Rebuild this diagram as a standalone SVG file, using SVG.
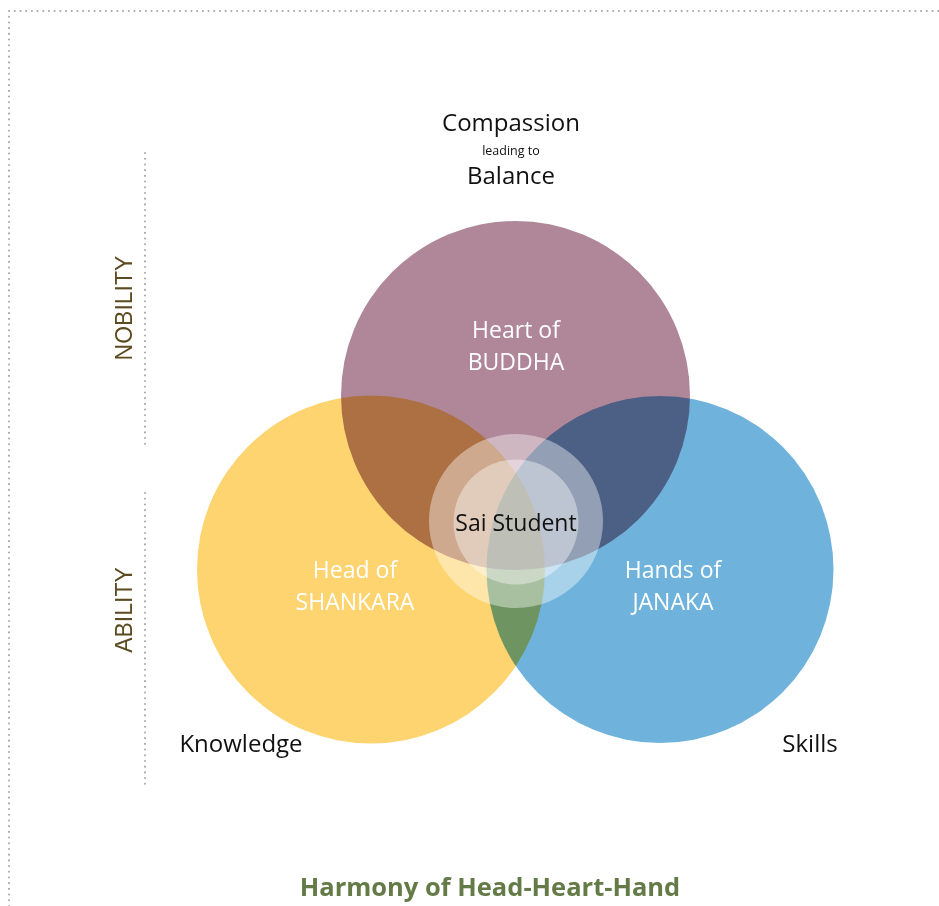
<svg xmlns="http://www.w3.org/2000/svg" width="939" height="906" viewBox="0 0 939 906">
<style>
.dot{stroke:#a8a8a8;stroke-width:2;stroke-dasharray:0.1 5.6;stroke-linecap:round;fill:none}
.t{font-family:"Open Sans","Noto Sans",sans-serif;text-anchor:middle}
.w{fill:#ffffff;font-size:23px}
.k{fill:#111111;font-size:24px}
.side{font-family:"Liberation Sans",Arial,sans-serif;font-size:23px;fill:#5c4a20;text-anchor:middle}
.c{mix-blend-mode:multiply}
</style>
<rect width="939" height="906" fill="#ffffff"/>
<g id="frame">
<path class="dot" d="M9 11 H939 M9 11 V906"/>
<path class="dot" d="M145 153 V447 M145 493 V786"/>
</g>
<g id="circles" style="isolation:isolate">
<circle id="buddha" class="c" cx="515.5" cy="395.5" r="174.5" fill="#af8799"/>
<circle id="shankara" class="c" cx="371" cy="569.5" r="174" fill="#fdd470"/>
<circle id="janaka" class="c" cx="660" cy="569.5" r="173.5" fill="#6fb3dc"/>
</g>
<g id="sai">
<circle cx="516" cy="521" r="87" fill="#ffffff" fill-opacity="0.4"/>
<circle cx="516" cy="522" r="62.5" fill="#ffffff" fill-opacity="0.4"/>
<text class="t" x="516" y="531" font-size="23" fill="#111">Sai Student</text>
</g>
<g id="labels">
<text class="t w" x="516" y="338">Heart of</text>
<text class="t w" x="516" y="370">BUDDHA</text>
<text class="t w" x="355" y="578">Head of</text>
<text class="t w" x="355" y="610">SHANKARA</text>
<text class="t w" x="673" y="578">Hands of</text>
<text class="t w" x="673" y="610">JANAKA</text>
<text class="t k" x="511" y="131">Compassion</text>
<text class="t" x="511" y="155" font-size="12.5" fill="#111">leading to</text>
<text class="t k" x="511" y="184">Balance</text>
<text class="t k" x="241" y="752">Knowledge</text>
<text class="t k" x="810" y="752">Skills</text>
<text class="side" transform="translate(132 308) rotate(-90)">NOBILITY</text>
<text class="side" transform="translate(132 610) rotate(-90)">ABILITY</text>
<text class="t" x="490" y="896" font-size="25.5" font-weight="bold" fill="#647b48">Harmony of Head-Heart-Hand</text>
</g>
</svg>
